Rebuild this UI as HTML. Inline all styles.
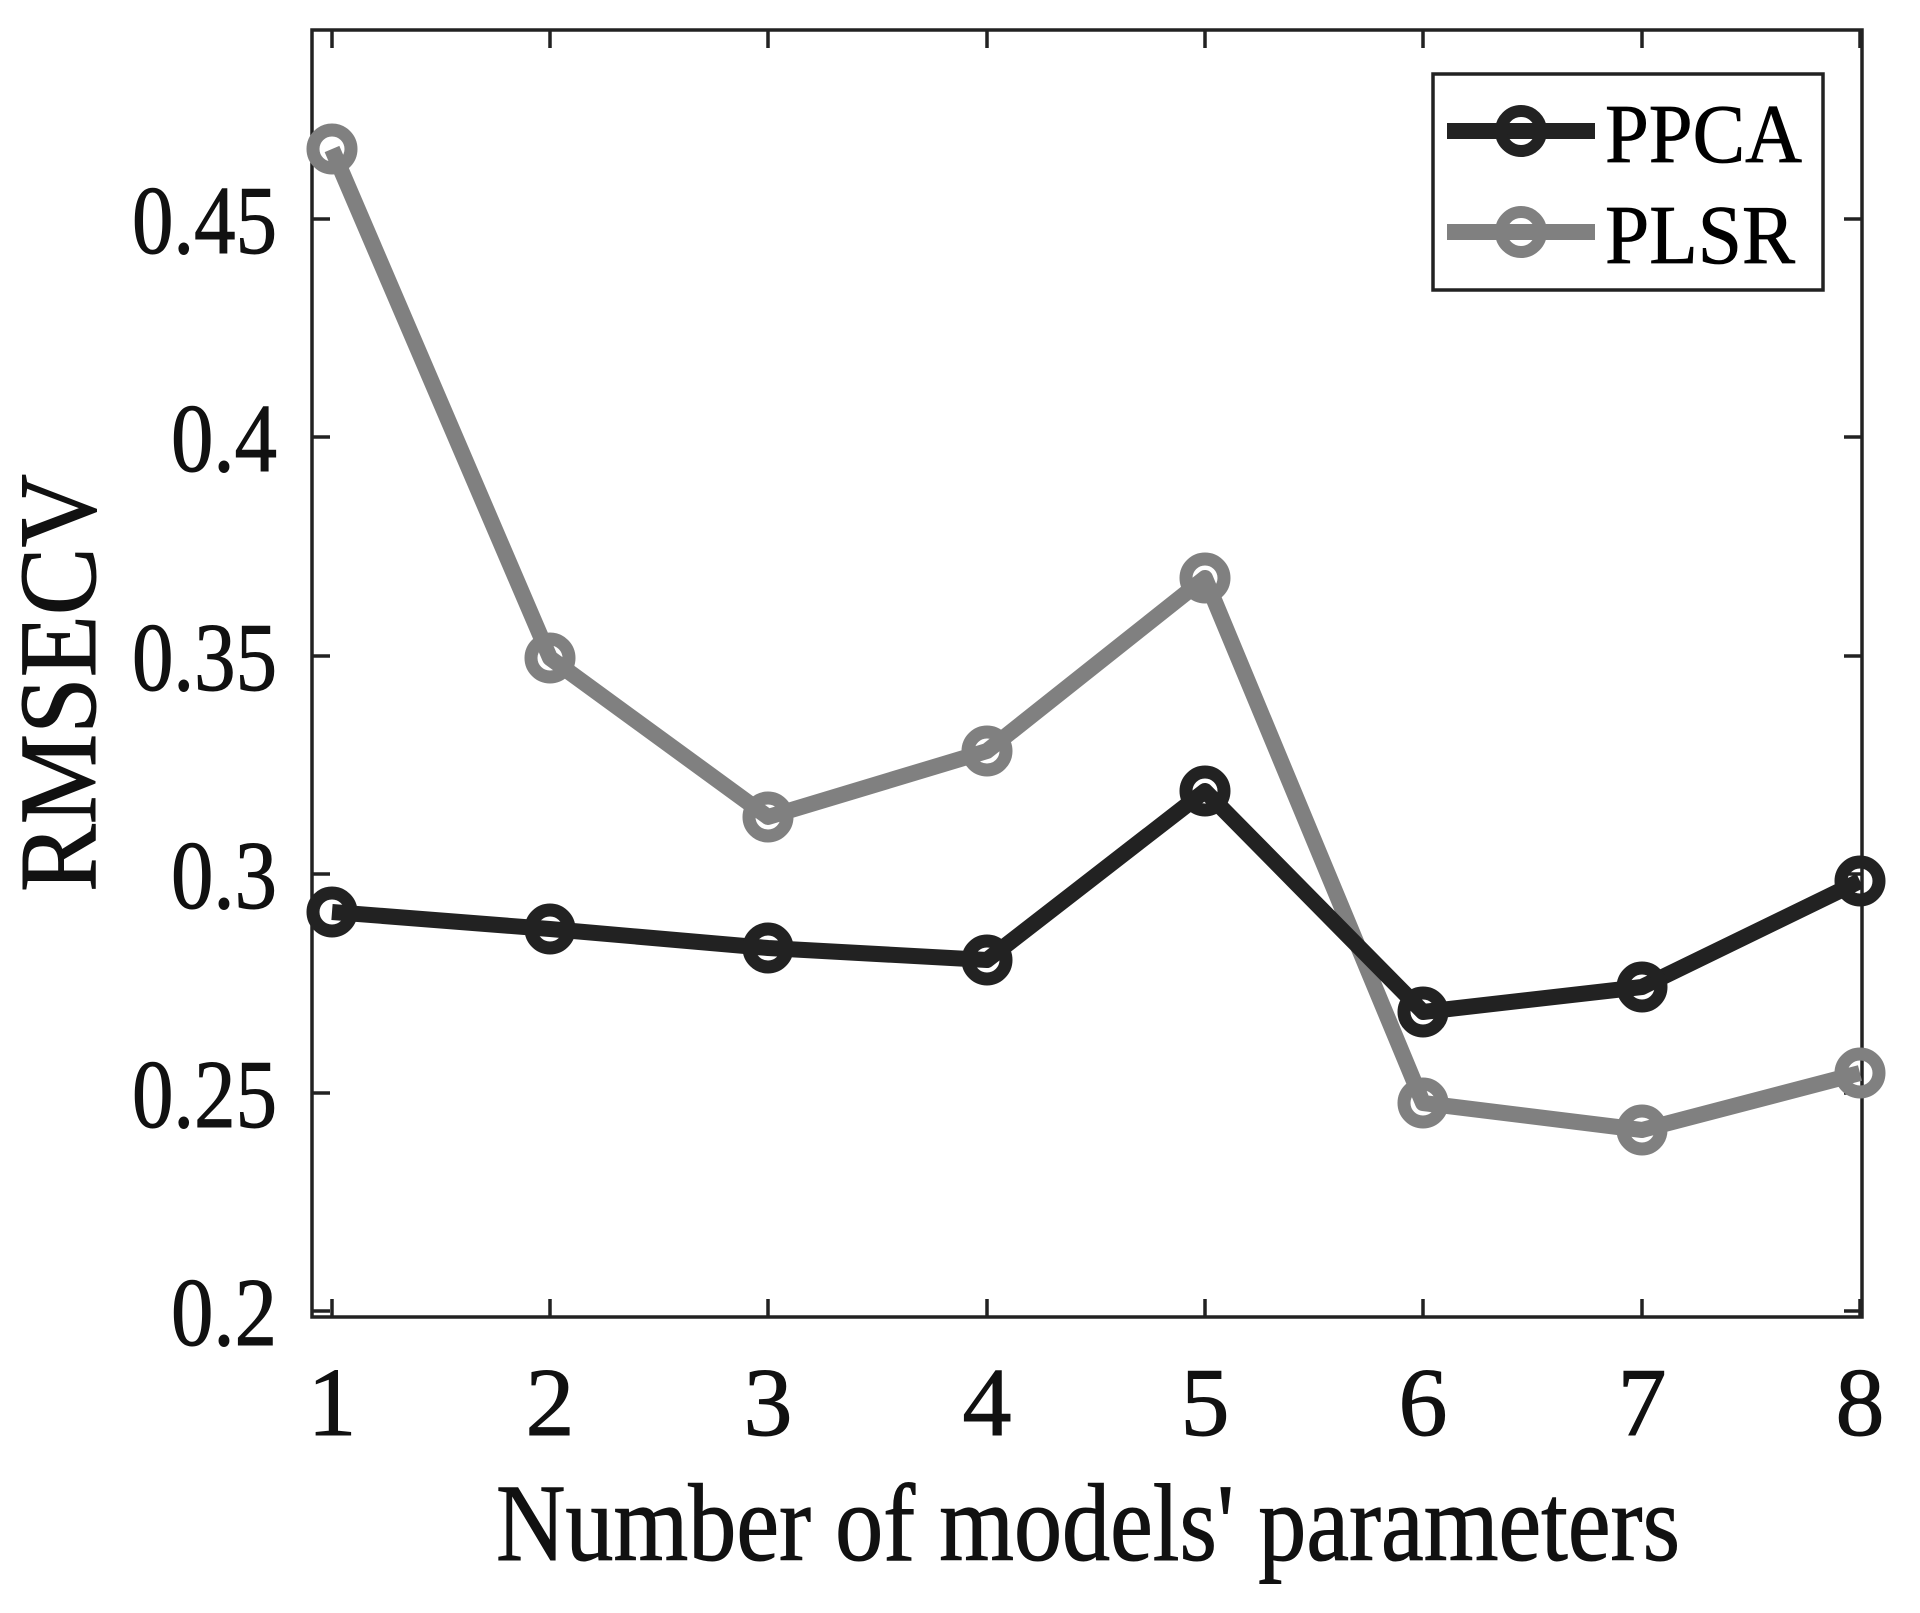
<!DOCTYPE html>
<html><head><style>html,body{margin:0;padding:0;background:#fff}svg{display:block}</style></head>
<body>
<svg width="1920" height="1613" viewBox="0 0 1920 1613" xmlns="http://www.w3.org/2000/svg" font-family="Liberation Serif, serif" fill="#111">
<rect x="0" y="0" width="1920" height="1613" fill="#fff"/>
<g stroke="#222" stroke-width="3.5" fill="none">
<rect x="312" y="30" width="1550" height="1287"/>
<path d="M332 1317v-18M550 1317v-18M768 1317v-18M987 1317v-18M1205 1317v-18M1423 1317v-18M1642 1317v-18M1860 1317v-18
M332 30v18M550 30v18M768 30v18M987 30v18M1205 30v18M1423 30v18M1642 30v18M1860 30v18
M312 1311h18M312 1093h18M312 874h18M312 656h18M312 437h18M312 219h18
M1862 1311h-18M1862 1093h-18M1862 874h-18M1862 656h-18M1862 437h-18M1862 219h-18"/>
</g>
<g stroke="#111" stroke-width="1">
<g font-size="98" text-anchor="end">
<text x="277" y="1345" textLength="106" lengthAdjust="spacingAndGlyphs">0.2</text>
<text x="277" y="1127" textLength="145" lengthAdjust="spacingAndGlyphs">0.25</text>
<text x="277" y="908" textLength="106" lengthAdjust="spacingAndGlyphs">0.3</text>
<text x="277" y="690" textLength="145" lengthAdjust="spacingAndGlyphs">0.35</text>
<text x="277" y="471" textLength="106" lengthAdjust="spacingAndGlyphs">0.4</text>
<text x="277" y="253" textLength="145" lengthAdjust="spacingAndGlyphs">0.45</text>
</g>
<g font-size="98" text-anchor="middle">
<text x="332" y="1435">1</text><text x="550" y="1435">2</text><text x="768" y="1435">3</text><text x="987" y="1435">4</text>
<text x="1205" y="1435">5</text><text x="1423" y="1435">6</text><text x="1642" y="1435">7</text><text x="1860" y="1435">8</text>
</g>
<text x="1088" y="1560" font-size="110" text-anchor="middle" textLength="1184" lengthAdjust="spacingAndGlyphs">Number of models' parameters</text>
<text transform="translate(95,683) rotate(-90)" font-size="110" text-anchor="middle" textLength="418" lengthAdjust="spacingAndGlyphs">RMSECV</text>
</g>
<g fill="none" stroke-linejoin="round">
<polyline stroke="#808080" stroke-width="16" points="332,149 550,658 768,817 987,751 1205,578 1423,1103 1642,1130 1860,1073"/>
<g stroke="#808080" stroke-width="13">
<circle cx="332" cy="149" r="19"/><circle cx="550" cy="658" r="19"/><circle cx="768" cy="817" r="19"/><circle cx="987" cy="751" r="19"/><circle cx="1205" cy="578" r="19"/><circle cx="1423" cy="1103" r="19"/><circle cx="1642" cy="1130" r="19"/><circle cx="1860" cy="1073" r="19"/>
</g>
<polyline stroke="#222" stroke-width="16" points="332,912 550,929 768,948 987,960 1205,791 1423,1012 1642,987 1860,881"/>
<g stroke="#222" stroke-width="13">
<circle cx="332" cy="912" r="19"/><circle cx="550" cy="929" r="19"/><circle cx="768" cy="948" r="19"/><circle cx="987" cy="960" r="19"/><circle cx="1205" cy="791" r="19"/><circle cx="1423" cy="1012" r="19"/><circle cx="1642" cy="987" r="19"/><circle cx="1860" cy="881" r="19"/>
</g>
</g>
<rect x="1433" y="74" width="390" height="216" fill="#fff" stroke="#222" stroke-width="3.5"/>
<path d="M1447 131H1595" stroke="#222" stroke-width="16"/>
<circle cx="1521" cy="131" r="20" fill="none" stroke="#222" stroke-width="12"/>
<path d="M1447 232H1595" stroke="#808080" stroke-width="16"/>
<circle cx="1521" cy="232" r="20" fill="none" stroke="#808080" stroke-width="12"/>
<g font-size="84" fill="#000" stroke="#000" stroke-width="0.8">
<text x="1605" y="162" textLength="197" lengthAdjust="spacingAndGlyphs">PPCA</text>
<text x="1605" y="263" textLength="190" lengthAdjust="spacingAndGlyphs">PLSR</text>
</g>
</svg>
</body></html>
